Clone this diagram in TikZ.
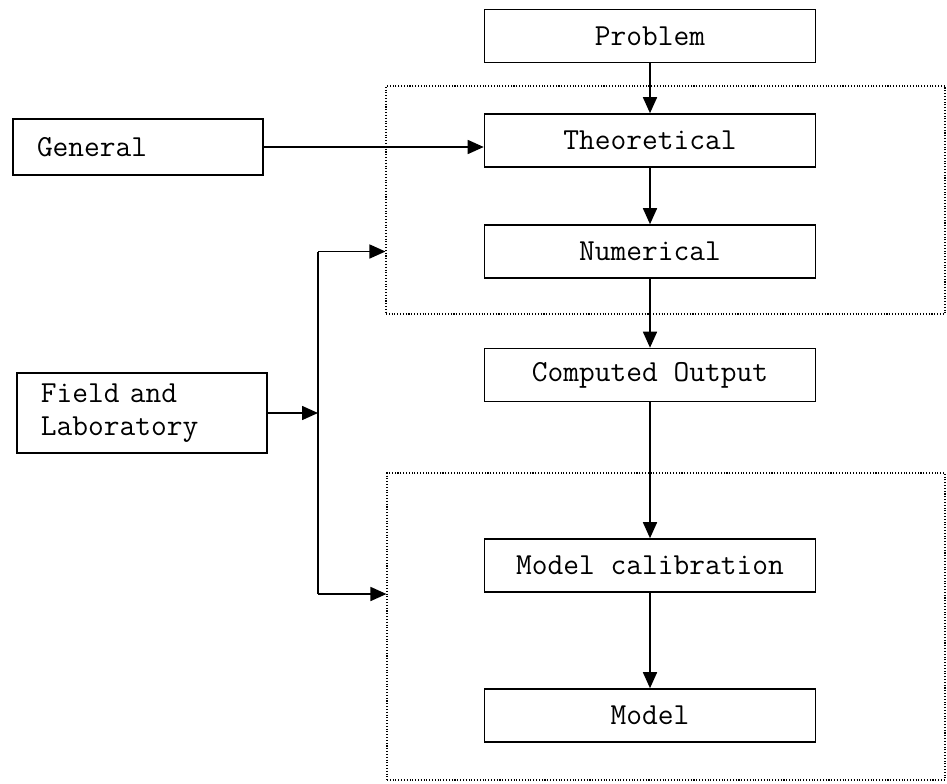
\documentclass[tikz,border=0pt]{standalone}
\usepackage{fontspec}
\usetikzlibrary{arrows.meta}

\begin{document}
\begin{tikzpicture}
[node distance=1cm, font=\ttfamily\fontsize{17.4}{19}\selectfont, >={Triangle[length=3.2mm, width=2.8mm]}]

\useasboundingbox (0,0) rectangle (18.94,15.66);

\tikzstyle{stage}=[rectangle, draw, line width=0.9pt, minimum width=6.62cm, minimum height=1.06cm, inner sep=0mm]
\tikzstyle{source}=[rectangle, draw, line width=0.9pt, text width=4.04cm, inner xsep=0.48cm, inner ysep=0mm, align=left]
\tikzstyle{frame}=[rectangle, draw, densely dotted, line width=0.6pt, inner sep=0mm]
\tikzstyle{link}=[->, line width=0.9pt]

% dotted groups
\node[frame, minimum width=11.18cm, minimum height=4.56cm]	(G1)	at (13.31,11.66)	{};
\node[frame, minimum width=11.16cm, minimum height=6.14cm]	(G2)	at (13.32,3.13)	{};

% main chain
\node[stage]	(P)	at (13.0,14.94)	{Problem};
\node[stage]	(T)	at (13.0,12.85)	{Theoretical};
\node[stage]	(N)	at (13.0,10.63)	{Numerical};
\node[stage]	(C)	at (13.0,8.16)	{Computed Output};
\node[stage]	(MC)	at (13.0,4.35)	{Model calibration};
\node[stage]	(M)	at (13.0,1.35)	{Model};

% inputs
\node[source, minimum height=1.12cm]	(Gen)	at (2.76,12.72)	{General};
\node[source, minimum height=1.6cm]	(FL)	at (2.84,7.40)	{Field and\\Laboratory};

\coordinate	(J)	at (6.36,7.40);
\coordinate	(Jt)	at (6.36,10.63);
\coordinate	(Jb)	at (6.36,3.78);

\draw [link] (P) -- (T);
\draw [link] (T) -- (N);
\draw [link] (N) -- (C);
\draw [link] (C) -- (MC);
\draw [link] (MC) -- (M);
\draw [link] (Gen.east) -- (T.west |- Gen.east);
\draw [link] (FL.east) -- (J);
\draw [line width=0.9pt] (Jt) -- (Jb);
\draw [link] (Jt) -- (Jt -| G1.west);
\draw [link] (Jb) -- (Jb -| G2.west);
\end{tikzpicture}
\end{document}
